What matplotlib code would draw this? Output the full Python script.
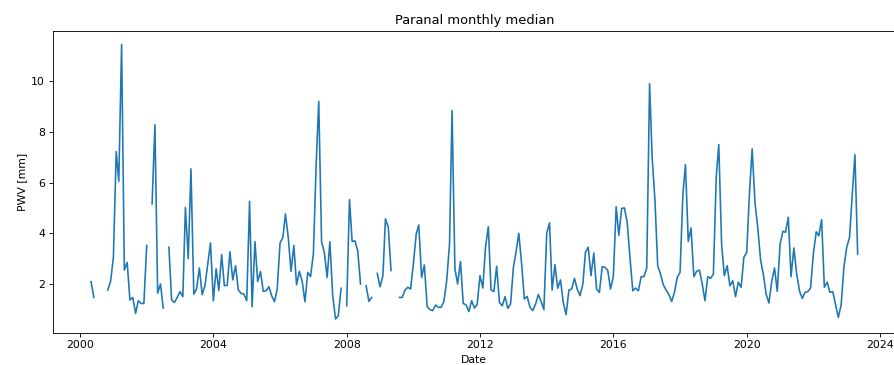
import numpy as np
import pandas as pd
import matplotlib
matplotlib.use('Agg')
import matplotlib.pyplot as plt

nan = np.nan

# monthly median PWV [mm], first value is May 2000, last is May 2023
pwv_2000 = [2.09, 1.47, nan, nan, nan, nan, 1.76, 2.10]  # May-Dec
pwv_2001 = [3.05, 7.22, 6.05, 11.45, 2.55, 2.85, 1.37, 1.47, 0.84, 1.34, 1.23, 1.23]
pwv_2002 = [3.52, nan, 5.16, 8.28, 1.64, 2.00, 1.05, nan, 3.45, 1.37, 1.27, 1.47]
pwv_2003 = [1.70, 1.50, 5.02, 3.00, 6.54, 1.60, 1.80, 2.63, 1.58, 1.93, 2.79, 3.62]
pwv_2004 = [1.34, 2.60, 1.74, 3.16, 1.93, 1.95, 3.27, 2.16, 2.72, 1.76, 1.63, 1.60]
pwv_2005 = [1.34, 5.26, 1.10, 3.67, 2.10, 2.49, 1.71, 1.73, 1.89, 1.54, 1.30, 1.80]
pwv_2006 = [3.62, 3.84, 4.76, 3.84, 2.50, 3.52, 1.97, 2.50, 2.10, 1.30, 2.46, 2.29]
pwv_2007 = [3.18, 6.74, 9.20, 3.67, 3.25, 2.26, 3.67, 1.54, 0.62, 0.75, 1.83, nan]
pwv_2008 = [1.14, 5.33, 3.68, 3.70, 3.31, 2.00, nan, 1.93, 1.31, 1.47, nan, 2.42]
pwv_2009 = [1.89, 2.33, 4.57, 4.24, 2.53, nan, nan, 1.47, 1.47, 1.76, 1.87, 1.80]
pwv_2010 = [2.79, 3.97, 4.33, 2.26, 2.75, 1.10, 0.99, 0.95, 1.17, 1.08, 1.08, 1.31]
pwv_2011 = [2.13, 3.58, 8.84, 2.59, 2.00, 2.89, 1.23, 1.18, 0.91, 1.34, 1.05, 1.20]
pwv_2012 = [2.33, 1.84, 3.45, 4.26, 1.76, 1.70, 2.70, 1.27, 1.14, 1.50, 1.04, 1.21]
pwv_2013 = [2.66, 3.31, 4.00, 2.79, 1.41, 1.51, 1.08, 0.95, 1.21, 1.58, 1.31, 0.99]
pwv_2014 = [4.00, 4.41, 1.76, 2.76, 1.83, 2.16, 1.27, 0.79, 1.76, 1.80, 2.22, 1.80]
pwv_2015 = [1.54, 2.00, 3.25, 3.45, 2.33, 3.22, 1.80, 1.67, 2.68, 2.66, 2.53, 1.80]
pwv_2016 = [2.30, 5.05, 3.92, 4.98, 5.00, 4.43, 3.05, 1.73, 1.84, 1.73, 2.29, 2.29]
pwv_2017 = [2.63, 9.90, 7.00, 5.29, 2.72, 2.39, 1.97, 1.76, 1.58, 1.31, 1.67, 2.26]
pwv_2018 = [2.46, 5.55, 6.71, 3.68, 4.21, 2.29, 2.50, 2.55, 2.00, 1.34, 2.29, 2.22]
pwv_2019 = [2.39, 6.21, 7.50, 3.58, 2.33, 2.72, 1.93, 2.13, 1.50, 2.07, 1.87, 3.05]
pwv_2020 = [3.25, 5.62, 7.33, 5.20, 4.24, 2.95, 2.39, 1.60, 1.25, 2.10, 2.63, 1.71]
pwv_2021 = [3.58, 4.08, 4.04, 4.63, 2.29, 3.42, 2.42, 1.73, 1.43, 1.67, 1.70, 1.84]
pwv_2022 = [3.21, 4.06, 3.90, 4.54, 1.87, 2.07, 1.67, 1.70, 1.18, 0.68, 1.18, 2.66]
pwv_2023 = [3.45, 3.84, 5.42, 7.10, 3.18]  # Jan-May

pwv = (pwv_2000 + pwv_2001 + pwv_2002 + pwv_2003 + pwv_2004 + pwv_2005
       + pwv_2006 + pwv_2007 + pwv_2008 + pwv_2009 + pwv_2010 + pwv_2011
       + pwv_2012 + pwv_2013 + pwv_2014 + pwv_2015 + pwv_2016 + pwv_2017
       + pwv_2018 + pwv_2019 + pwv_2020 + pwv_2021 + pwv_2022 + pwv_2023)
dates = pd.date_range('2000-05-01', '2023-05-01', freq='MS')

df = pd.DataFrame({'date': dates, 'pwv': pwv})

# the reference looks like a default figure rendered at a lower dpi
dpi = 78
fig = plt.figure(figsize=(894 / dpi, 365 / dpi), dpi=dpi)
ax = fig.add_axes([52.7 / 894, 32.3 / 365, 843.3 / 894, 302 / 365])
ax.plot(df['date'], df['pwv'], color='#1f77b4')

ax.set_title('Paranal monthly median')
ax.set_xlabel('Date')
ax.set_ylabel('PWV [mm]')

fig.savefig('out.png', dpi=dpi)
